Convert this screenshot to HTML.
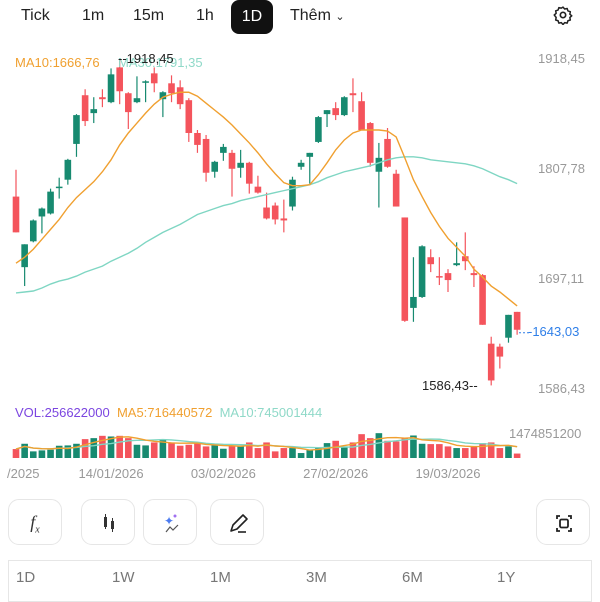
<!DOCTYPE html>
<html><head><meta charset="utf-8"><style>
body{margin:0;width:600px;height:600px;background:#fff;font-family:"Liberation Sans",sans-serif;overflow:hidden;position:relative}
.t{position:absolute;white-space:nowrap}
.tab{position:absolute;top:7px;font-size:16px;color:#222}
.btn{position:absolute;top:499px;width:54px;height:46px;border:1px solid #e6e6e6;border-radius:11px;box-sizing:border-box}
.rng{position:absolute;top:569px;font-size:15px;color:#777}
</style></head><body>
<div class="tab" style="left:21px">Tick</div>
<div class="tab" style="left:82px">1m</div>
<div class="tab" style="left:133px">15m</div>
<div class="tab" style="left:196px">1h</div>
<div style="position:absolute;left:231px;top:0;width:42px;height:34px;background:#111;border-radius:8px;color:#fff;font-size:16px;text-align:center;line-height:34px">1D</div>
<div class="tab" style="left:290px">Thêm <span style="font-size:11px">&#8964;</span></div>
<svg style="position:absolute;left:553px;top:5px" width="20" height="20" viewBox="0 0 24 24"><circle cx="12" cy="12" r="3.2" fill="none" stroke="#222" stroke-width="2"/><path d="M12 2.5l2 2.3 3-.6.9 2.9 2.9.9-.6 3 2.3 2-2.3 2 .6 3-2.9.9-.9 2.9-3-.6-2 2.3-2-2.3-3 .6-.9-2.9-2.9-.9.6-3L1.5 12l2.3-2-.6-3 2.9-.9.9-2.9 3 .6z" fill="none" stroke="#222" stroke-width="1.8" stroke-linejoin="round"/></svg>

<svg id="chart" style="position:absolute;left:0;top:0" width="600" height="490"></svg>

<div class="t" style="left:15px;top:55px;font-size:13px;color:#f0a030">MA10:1666,76</div>
<div class="t" style="left:118px;top:55px;font-size:13px;color:#8fd9c8">MA30:1791,35</div>
<div class="t" style="left:118px;top:51px;font-size:13px;color:#222">--1918,45</div>
<div class="t" style="left:422px;top:378px;font-size:13px;color:#222">1586,43--</div>
<div class="t" style="left:528px;top:324px;font-size:13px;color:#2f7fe8">-1643,03</div>
<div class="t" style="left:15px;top:405px;font-size:13px"><span style="color:#7b45e0">VOL:256622000</span>&nbsp; <span style="color:#f0a030">MA5:716440572</span>&nbsp; <span style="color:#8fd9c8">MA10:745001444</span></div>
<div class="t" style="left:509px;top:426px;font-size:13px;color:#999">1474851200</div>

<div class="btn" style="left:8px"><div style="text-align:center;line-height:44px;font-family:'Liberation Serif',serif;font-style:italic;font-size:18px;color:#333">f<sub style="font-size:10px">x</sub></div></div>
<div class="btn" style="left:81px"><svg width="54" height="46"><rect x="22" y="17" width="3" height="10" fill="#333"/><line x1="23.5" y1="14" x2="23.5" y2="29" stroke="#333"/><rect x="29" y="21" width="3" height="8" fill="#333"/><line x1="30.5" y1="18" x2="30.5" y2="32" stroke="#333"/></svg></div>
<div class="btn" style="left:143px"><svg width="54" height="46"><text x="20" y="25" font-size="12" fill="#4d7cf0">✦</text><circle cx="31" cy="16" r="1.5" fill="#a070f0"/><polyline points="22,32 26,27 29,30 34,25" fill="none" stroke="#555" stroke-width="1.2"/></svg></div>
<div class="btn" style="left:210px"><svg width="54" height="46"><path d="M20 31l2-6 10-10 4 4-10 10z" fill="none" stroke="#222" stroke-width="1.6" stroke-linejoin="round"/><line x1="27" y1="32" x2="35" y2="32" stroke="#222" stroke-width="1.6"/></svg></div>
<div class="btn" style="left:536px"><svg width="54" height="46"><path d="M20 19v-3h3M31 16h3v3M34 28v3h-3M23 31h-3v-3" fill="none" stroke="#222" stroke-width="1.8"/><rect x="23" y="19.5" width="8" height="8" rx="1.5" fill="none" stroke="#222" stroke-width="1.8"/></svg></div>

<div style="position:absolute;left:8px;top:560px;width:584px;height:42px;border:1px solid #e6e6e6;box-sizing:border-box"></div>
<div class="rng" style="left:16px">1D</div>
<div class="rng" style="left:112px">1W</div>
<div class="rng" style="left:210px">1M</div>
<div class="rng" style="left:306px">3M</div>
<div class="rng" style="left:402px">6M</div>
<div class="rng" style="left:497px">1Y</div>

<script>
const opens=[1780,1709,1735,1760,1763,1789,1797,1833,1882,1864,1880,1875,1910,1884,1875,1895,1904,1878,1894,1890,1877,1844,1838,1805,1824,1824,1809,1814,1790,1769,1771,1758,1770,1810,1820,1835,1863,1869,1862,1884,1876,1854,1805,1838,1803,1759,1668,1679,1719,1700,1703,1711,1720,1703,1701,1632,1629,1638,1664];
const closes=[1744,1732,1756,1768,1785,1790,1817,1862,1856,1868,1878,1903,1886,1865,1879,1896,1894,1885,1884,1873,1844,1832,1804,1815,1830,1808,1814,1793,1784,1758,1757,1756,1797,1814,1824,1860,1867,1862,1880,1882,1847,1814,1819,1810,1770,1655,1679,1730,1712,1699,1696,1713,1715,1701,1651,1595,1619,1661,1646];
const highs=[1807,1732,1757,1769,1788,1799,1818,1863,1888,1880,1888,1909,1918,1885,1901,1897,1910,1886,1902,1897,1879,1847,1842,1816,1833,1827,1827,1815,1801,1784,1774,1777,1800,1817,1824,1861,1867,1875,1881,1899,1885,1855,1834,1849,1807,1759,1719,1731,1727,1719,1707,1734,1744,1710,1702,1639,1632,1661,1664];
const lows=[1744,1690,1734,1743,1762,1778,1792,1820,1851,1854,1870,1874,1873,1848,1874,1875,1885,1860,1875,1868,1835,1824,1795,1799,1816,1780,1799,1783,1783,1757,1752,1744,1766,1807,1793,1834,1850,1857,1861,1865,1847,1810,1769,1809,1770,1654,1654,1678,1704,1691,1684,1710,1706,1689,1651,1590,1607,1633,1641];
const ma10=[1713,1719,1727,1737,1747,1757,1769,1779,1787,1795,1805,1817,1832,1844,1854,1864,1873,1880,1883,1885,1885,1881,1874,1867,1860,1852,1843,1834,1824,1813,1803,1794,1791,1791,1792,1802,1814,1827,1837,1844,1847,1847,1847,1846,1840,1819,1797,1780,1764,1750,1738,1729,1720,1707,1699,1690,1684,1677,1670];
const ma30=[1683,1684,1685,1688,1692,1695,1697,1700,1704,1707,1710,1715,1719,1723,1728,1734,1739,1744,1748,1752,1757,1762,1765,1768,1771,1773,1776,1778,1780,1782,1784,1786,1788,1790,1792,1795,1799,1802,1805,1807,1809,1811,1814,1817,1819,1820,1820,1819,1817,1816,1815,1814,1813,1811,1808,1804,1800,1797,1793];
const volumes=[517,823,383,440,479,709,728,823,1092,1149,1283,1245,1283,1149,766,728,900,1053,900,709,766,862,670,766,536,709,709,900,575,900,383,575,575,287,479,575,862,996,670,900,1379,1149,1436,996,958,1187,1302,823,804,804,670,575,575,670,862,900,575,670,257];
const priceTicks=[1918.45,1807.78,1697.11,1586.43];
const priceTickLabels=["1918,45","1807,78","1697,11","1586,43"];
const dateLabels=["/2025","14/01/2026","03/02/2026","27/02/2026","19/03/2026"];
const dateIdx=[-1,11,24,37,50];

const NS="http://www.w3.org/2000/svg";
const svg=document.getElementById('chart');
const RED="#f4545c",GRN="#178a70";
const xS=i=>16+i*8.64;
const yP=p=>59+(1918.45-p)*0.9938;
const VMAX=1474.85;
const yV=v=>458-v/VMAX*25.5;
function mk(tag,attrs){const e=document.createElementNS(NS,tag);for(const k in attrs)e.setAttribute(k,attrs[k]);svg.appendChild(e);return e;}

priceTicks.forEach((p,i)=>{
  const t=mk('text',{x:538,y:yP(p)+4,'font-size':13,fill:'#999','font-family':'Liberation Sans'});
  t.textContent=priceTickLabels[i];
  
  
});
dateLabels.forEach((d,i)=>{
  const t=mk('text',{x:xS(dateIdx[i]),y:478,'font-size':13,fill:'#999','font-family':'Liberation Sans','text-anchor':i==0?'start':'middle'});
  if(i==0)t.setAttribute('x',7);
  t.textContent=d;
  
  
});

opens.forEach((o,i)=>{
  const c=closes[i],up=c>=o,col=up?GRN:RED,x=xS(i);
  const w=mk('line',{x1:x,x2:x,y1:yP(highs[i]),y2:yP(lows[i]),stroke:col,'stroke-width':1.2});
  
  
  const top=yP(Math.max(o,c)),bot=yP(Math.min(o,c));
  const b=mk('rect',{x:x-3.3,y:top,width:6.6,height:Math.max(1.5,bot-top),fill:col});
  
  
  const vb=mk('rect',{x:x-3.3,y:yV(volumes[i]),width:6.6,height:458-yV(volumes[i]),fill:col});
  
  
});

function line(vals,yf,col,name){
  const pts=vals.map((v,i)=>v==null?null:xS(i)+','+yf(v)).filter(Boolean).join(' ');
  const l=mk('polyline',{points:pts,fill:'none',stroke:col,'stroke-width':1.4});
  
  
}
line(ma30,yP,'#7fd6c3','ma30-line');
line(ma10,yP,'#f0a030','ma10-line');
function ma(arr,n){return arr.map((v,i)=>{const s=arr.slice(Math.max(0,i-n+1),i+1);return s.reduce((a,b)=>a+b,0)/s.length;});}
line(ma(volumes,10),yV,'#7fd6c3','volume-ma10-line');
line(ma(volumes,5),yV,'#f0a030','volume-ma5-line');
const cl=mk('line',{x1:519,x2:529,y1:yP(1643.03),y2:yP(1643.03),stroke:'#2f7fe8','stroke-dasharray':'2,2'});


</script>
</body></html>
